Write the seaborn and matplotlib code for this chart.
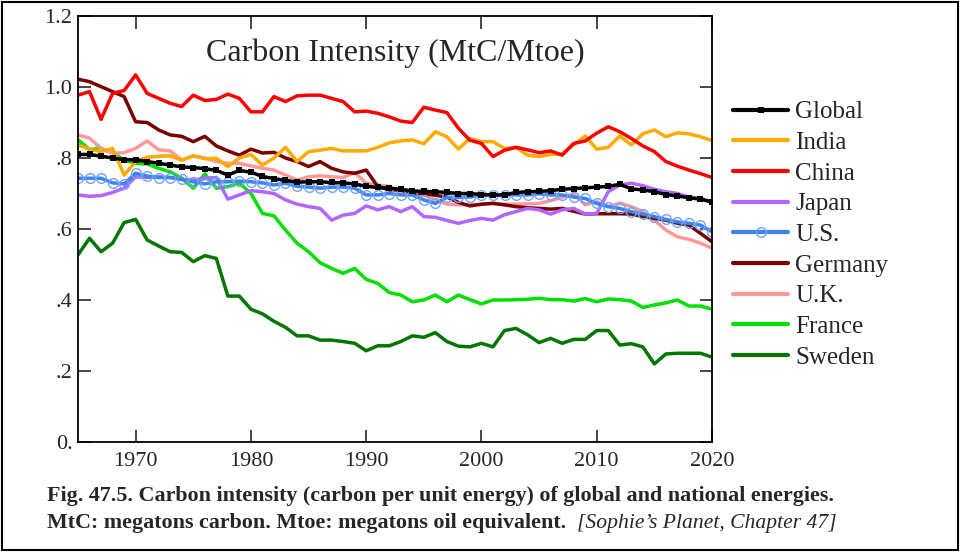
import matplotlib
matplotlib.use("Agg")
import matplotlib.pyplot as plt
import pandas as pd
import seaborn as sns

# years 1965..2020
years = list(range(1965, 2021))

# carbon intensity, MtC/Mtoe
global_ci = [.81, .81, .805, .80, .795, .795, .79, .785, .78, .775,
             .773, .77, .765, .752, .765, .76, .748, .742, .737, .732,
             .733, .733, .731, .73, .727, .72, .717, .715, .712, .707,
             .706, .705, .703, .70, .70, .697, .696, .696, .703, .705,
             .706, .708, .712, .714, .716, .718, .72, .726, .713, .71,
             .705, .697, .693, .688, .684, .676]
india = [.837, .825, .818, .827, .752, .79, .802, .805, .806, .794,
         .806, .798, .799, .776, .80, .81, .78, .80, .83, .79,
         .818, .822, .827, .82, .82, .82, .83, .843, .848, .851,
         .84, .874, .86, .825, .855, .846, .846, .827, .83, .808,
         .804, .81, .812, .837, .862, .825, .83, .862, .837, .868,
         .879, .86, .871, .868, .86, .849]
china = [.977, .987, .909, .982, .99, 1.034, .982, .968, .954, .945,
         .977, .962, .965, .98, .968, .93, .93, .973, .959, .975,
         .977, .977, .968, .959, .93, .932, .926, .916, .904, .90,
         .943, .935, .928, .884, .85, .841, .804, .822, .83, .823,
         .815, .82, .808, .841, .848, .87, .888, .874, .855, .834,
         .818, .79, .777, .766, .756, .745]
japan = [.696, .692, .694, .703, .715, .747, .745, .747, .745, .74,
         .738, .743, .745, .684, .696, .708, .705, .70, .682, .67,
         .663, .658, .625, .639, .644, .665, .654, .663, .649, .663,
         .635, .633, .624, .616, .624, .63, .625, .64, .649, .658,
         .654, .642, .654, .658, .642, .644, .705, .724, .729, .722,
         .712, .705, .70, .69, .686, .677]
us = [.743, .743, .743, .73, .727, .757, .749, .745, .745, .74,
      .733, .727, .733, .733, .735, .733, .73, .724, .729, .72,
      .718, .715, .718, .718, .715, .696, .696, .70, .696, .696,
      .682, .672, .689, .689, .69, .696, .696, .696, .696, .696,
      .699, .696, .696, .69, .686, .672, .663, .658, .649, .642,
      .635, .627, .62, .616, .611, .592]
germany = [1.022, 1.015, 1.001, .987, .973, .902, .90, .879, .865, .861,
           .846, .861, .834, .82, .808, .825, .814, .816, .80, .79,
           .776, .79, .771, .761, .757, .766, .72, .71, .71, .70,
           .70, .695, .69, .675, .665, .67, .672, .668, .663, .66,
           .658, .656, .658, .65, .642, .643, .643, .643, .642, .635,
           .63, .625, .616, .611, .588, .564]
uk = [.865, .856, .827, .813, .815, .827, .848, .823, .82, .794,
      .806, .80, .79, .785, .785, .778, .771, .766, .752, .738,
      .747, .75, .747, .745, .759, .729, .724, .72, .703, .703,
      .696, .682, .67, .668, .669, .669, .673, .67, .67, .671,
      .672, .68, .689, .699, .668, .677, .663, .673, .663, .649,
      .625, .597, .578, .571, .56, .546]
france = [.851, .824, .827, .815, .794, .785, .783, .771, .761, .743,
          .715, .755, .715, .719, .729, .70, .644, .637, .597, .56,
          .536, .505, .489, .475, .489, .458, .447, .421, .414, .395,
          .40, .414, .395, .414, .401, .389, .40, .40, .401, .402,
          .405, .401, .401, .397, .404, .395, .403, .401, .397, .379,
          .386, .392, .40, .383, .383, .374]
sweden = [.527, .574, .536, .56, .618, .627, .569, .552, .536, .534,
          .508, .525, .517, .411, .411, .374, .361, .34, .323, .299,
          .299, .287, .287, .283, .278, .257, .271, .271, .283, .299,
          .295, .308, .283, .27, .268, .278, .268, .314, .32, .302,
          .28, .292, .278, .289, .289, .314, .314, .273, .277, .268,
          .22, .248, .25, .25, .25, .239]

names = ["Global", "India", "China", "Japan", "U.S.", "Germany", "U.K.", "France", "Sweden"]
series = [global_ci, india, china, japan, us, germany, uk, france, sweden]
colors = ["#000000", "#ffaa00", "#ff0000", "#b266ff", "#3c82f0",
          "#7a0000", "#ff9999", "#00e000", "#007800"]

sns.set_style("white")
plt.rcParams['font.family'] = ['Liberation Serif', 'DejaVu Serif']

fig = plt.figure(figsize=(9.6, 5.52), dpi=100)
ax = fig.add_axes([78 / 960, 1 - 442 / 552, (712 - 78) / 960, (442 - 16) / 552])

# draw back to front, legend order set afterwards
draw_order = ["Sweden", "France", "U.K.", "Germany", "Japan", "India", "China", "U.S.", "Global"]
for name in draw_order:
    i = names.index(name)
    kw = dict(linewidth=2.5)
    if name == "Global":
        kw.update(marker="s", markersize=5, markeredgewidth=0)
    elif name == "U.S.":
        kw.update(marker="o", markersize=7, markerfacecolor="none",
                  markeredgecolor="#6fa4ff", markeredgewidth=1.0)
    sns.lineplot(x=years, y=series[i], color=colors[i], ax=ax, label=name, **kw)

ax.set_xlim(1965, 2020)
ax.set_ylim(0, 1.2)
ax.set_xticks([1970, 1980, 1990, 2000, 2010, 2020])
ax.set_xticklabels(["1970", "1980", "1990", "2000", "2010", "2020"], fontsize=16)
ax.set_yticks([0, .2, .4, .6, .8, 1.0, 1.2])
ax.set_yticklabels(["0.", ".2", ".4", ".6", ".8", "1.0", "1.2"], fontsize=16)
ax.tick_params(axis="both", direction="in", length=9, width=1.2, top=True, right=True,
               bottom=True, left=True, labelright=False, labeltop=False, pad=4)
ax.tick_params(axis="x", pad=7)
for s in ax.spines.values():
    s.set_color("black")
    s.set_linewidth(1.3)

ax.text(0.5, 0.912, "Carbon Intensity (MtC/Mtoe)", transform=ax.transAxes,
        ha="center", va="center", fontsize=23)

# legend in the original order
h, l = ax.get_legend_handles_labels()
lut = dict(zip(l, h))
leg = ax.legend([lut[n] for n in names], names, loc="upper left",
                bbox_to_anchor=(723 / 960, 1 - 91 / 552), bbox_transform=fig.transFigure,
                frameon=False, fontsize=18, handlelength=2.2, handletextpad=0.3,
                labelspacing=0.325, borderaxespad=0, numpoints=1)
for line in leg.get_lines():
    line.set_linewidth(3.0)

# caption
fig.text(47 / 960, 1 - 501 / 552,
         "Fig. 47.5. Carbon intensity (carbon per unit energy) of global and national energies.",
         fontsize=15.8, fontweight="bold", va="baseline")
fig.text(47 / 960, 1 - 528 / 552,
         "MtC: megatons carbon. Mtoe: megatons oil equivalent.",
         fontsize=15.8, fontweight="bold", va="baseline")
fig.text(577 / 960, 1 - 528 / 552, "[Sophie\u2019s Planet, Chapter 47]",
         fontsize=15.6, fontstyle="italic", va="baseline")

# frame around the whole picture
fig.patches.append(plt.Rectangle((0.002, 0.003), 0.996, 0.994, transform=fig.transFigure,
                                 fill=False, edgecolor="black", linewidth=1.5))

fig.savefig("out.png", dpi=100)
